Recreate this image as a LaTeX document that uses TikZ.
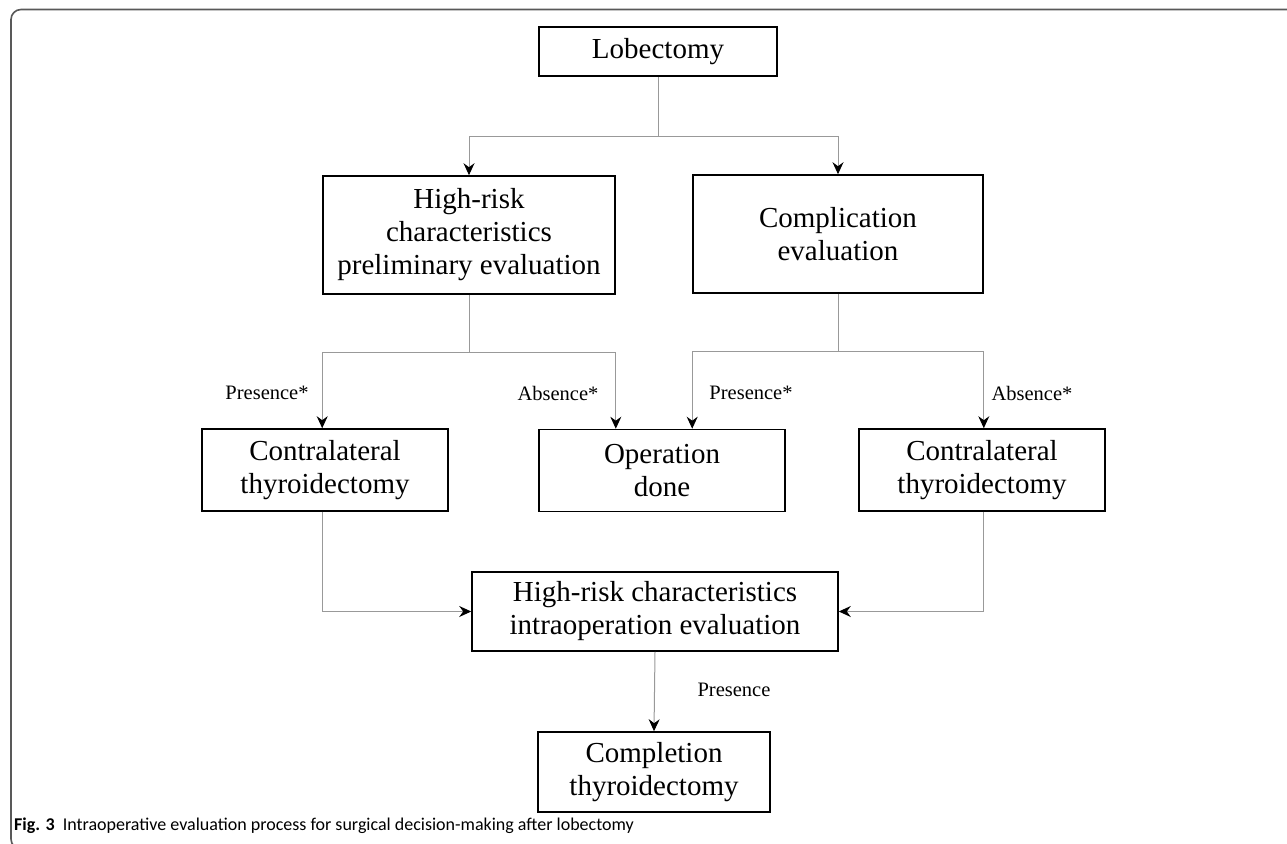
\documentclass[tikz,border=0pt]{standalone}
\usepackage{fontspec}
\setmainfont{Liberation Serif}
\newfontfamily\capfont{Carlito}
\usetikzlibrary{arrows.meta}
\begin{document}
\begin{tikzpicture}[x=1pt,y=-1pt,
  box/.style={draw=black, line width=1.6pt, align=center, inner sep=0pt,
    font=\fontsize{29}{33}\selectfont},
  link/.style={draw=black!40, line width=1pt},
  conn/.style={link, -{Stealth[black, length=12pt, width=11pt, inset=4pt]}},
  lbl/.style={font=\fontsize{20.5}{24}\selectfont, inner sep=0pt}]
\useasboundingbox (0,0) rectangle (1287,843);
\fill[white] (0,0) rectangle (1287,843);
\draw[line width=1.6pt, draw=black!65, rounded corners=10pt]
  (1300,9.5) -- (11,9.5) -- (11,849) -- (60,849);

\node[box, minimum width=238pt, minimum height=49pt] (lob) at (658,51.5) {Lobectomy};
\node[box, minimum width=292pt, minimum height=118pt] (hr) at (469,235)
  {High-risk\\characteristics\\preliminary evaluation};
\node[box, minimum width=290pt, minimum height=118pt] (comp) at (838,234)
  {Complication\\evaluation};
\node[box, minimum width=246pt, minimum height=82pt] (cl) at (325,470)
  {Contralateral\\thyroidectomy};
\node[box, minimum width=246pt, minimum height=82pt] (op) at (662,470.5)
  {Operation\\done};
\node[box, minimum width=246pt, minimum height=82pt] (cr) at (982,470)
  {Contralateral\\thyroidectomy};
\node[box, minimum width=366pt, minimum height=79pt] (intra) at (655,611.5)
  {High-risk characteristics\\intraoperation evaluation};
\node[box, minimum width=232pt, minimum height=80pt] (compl) at (654,772)
  {Completion\\thyroidectomy};

\coordinate (j1) at (658,136);
\draw[link] (lob.south) -- (j1);
\draw[conn] (j1) -| (hr.north);
\draw[conn] (j1) -| (comp.north);

\coordinate (j2) at (469,352);
\draw[link] (hr.south) -- (j2);
\draw[conn] (j2) -| (cl.north -| hr.west);
\draw[conn] (j2) -| (op.north -| hr.east);

\coordinate (j3) at (838,351);
\draw[link] (comp.south) -- (j3);
\draw[conn] (j3) -| (op.north -| comp.west);
\draw[conn] (j3) -| (cr.north -| comp.east);

\draw[conn] (cl.south -| hr.west) |- (intra.west);
\draw[conn] (cr.south -| comp.east) |- (intra.east);
\draw[conn] (intra.south) -- (compl.north);

\node[lbl] (l1) at (267,393) {Presence*};
\node[lbl] (l2) at (558,393) {Absence*};
\node[lbl] (l3) at (751,393) {Presence*};
\node[lbl] (l4) at (1032,393) {Absence*};
\node[lbl] (l5) at (734,690) {Presence};

\node[anchor=west, inner sep=0pt, font=\capfont\fontsize{18}{22}\selectfont] (cap) at (14,826)
  {\textbf{Fig. 3}\hspace{8pt}Intraoperative evaluation process for surgical decision-making after lobectomy};
\end{tikzpicture}
\end{document}
